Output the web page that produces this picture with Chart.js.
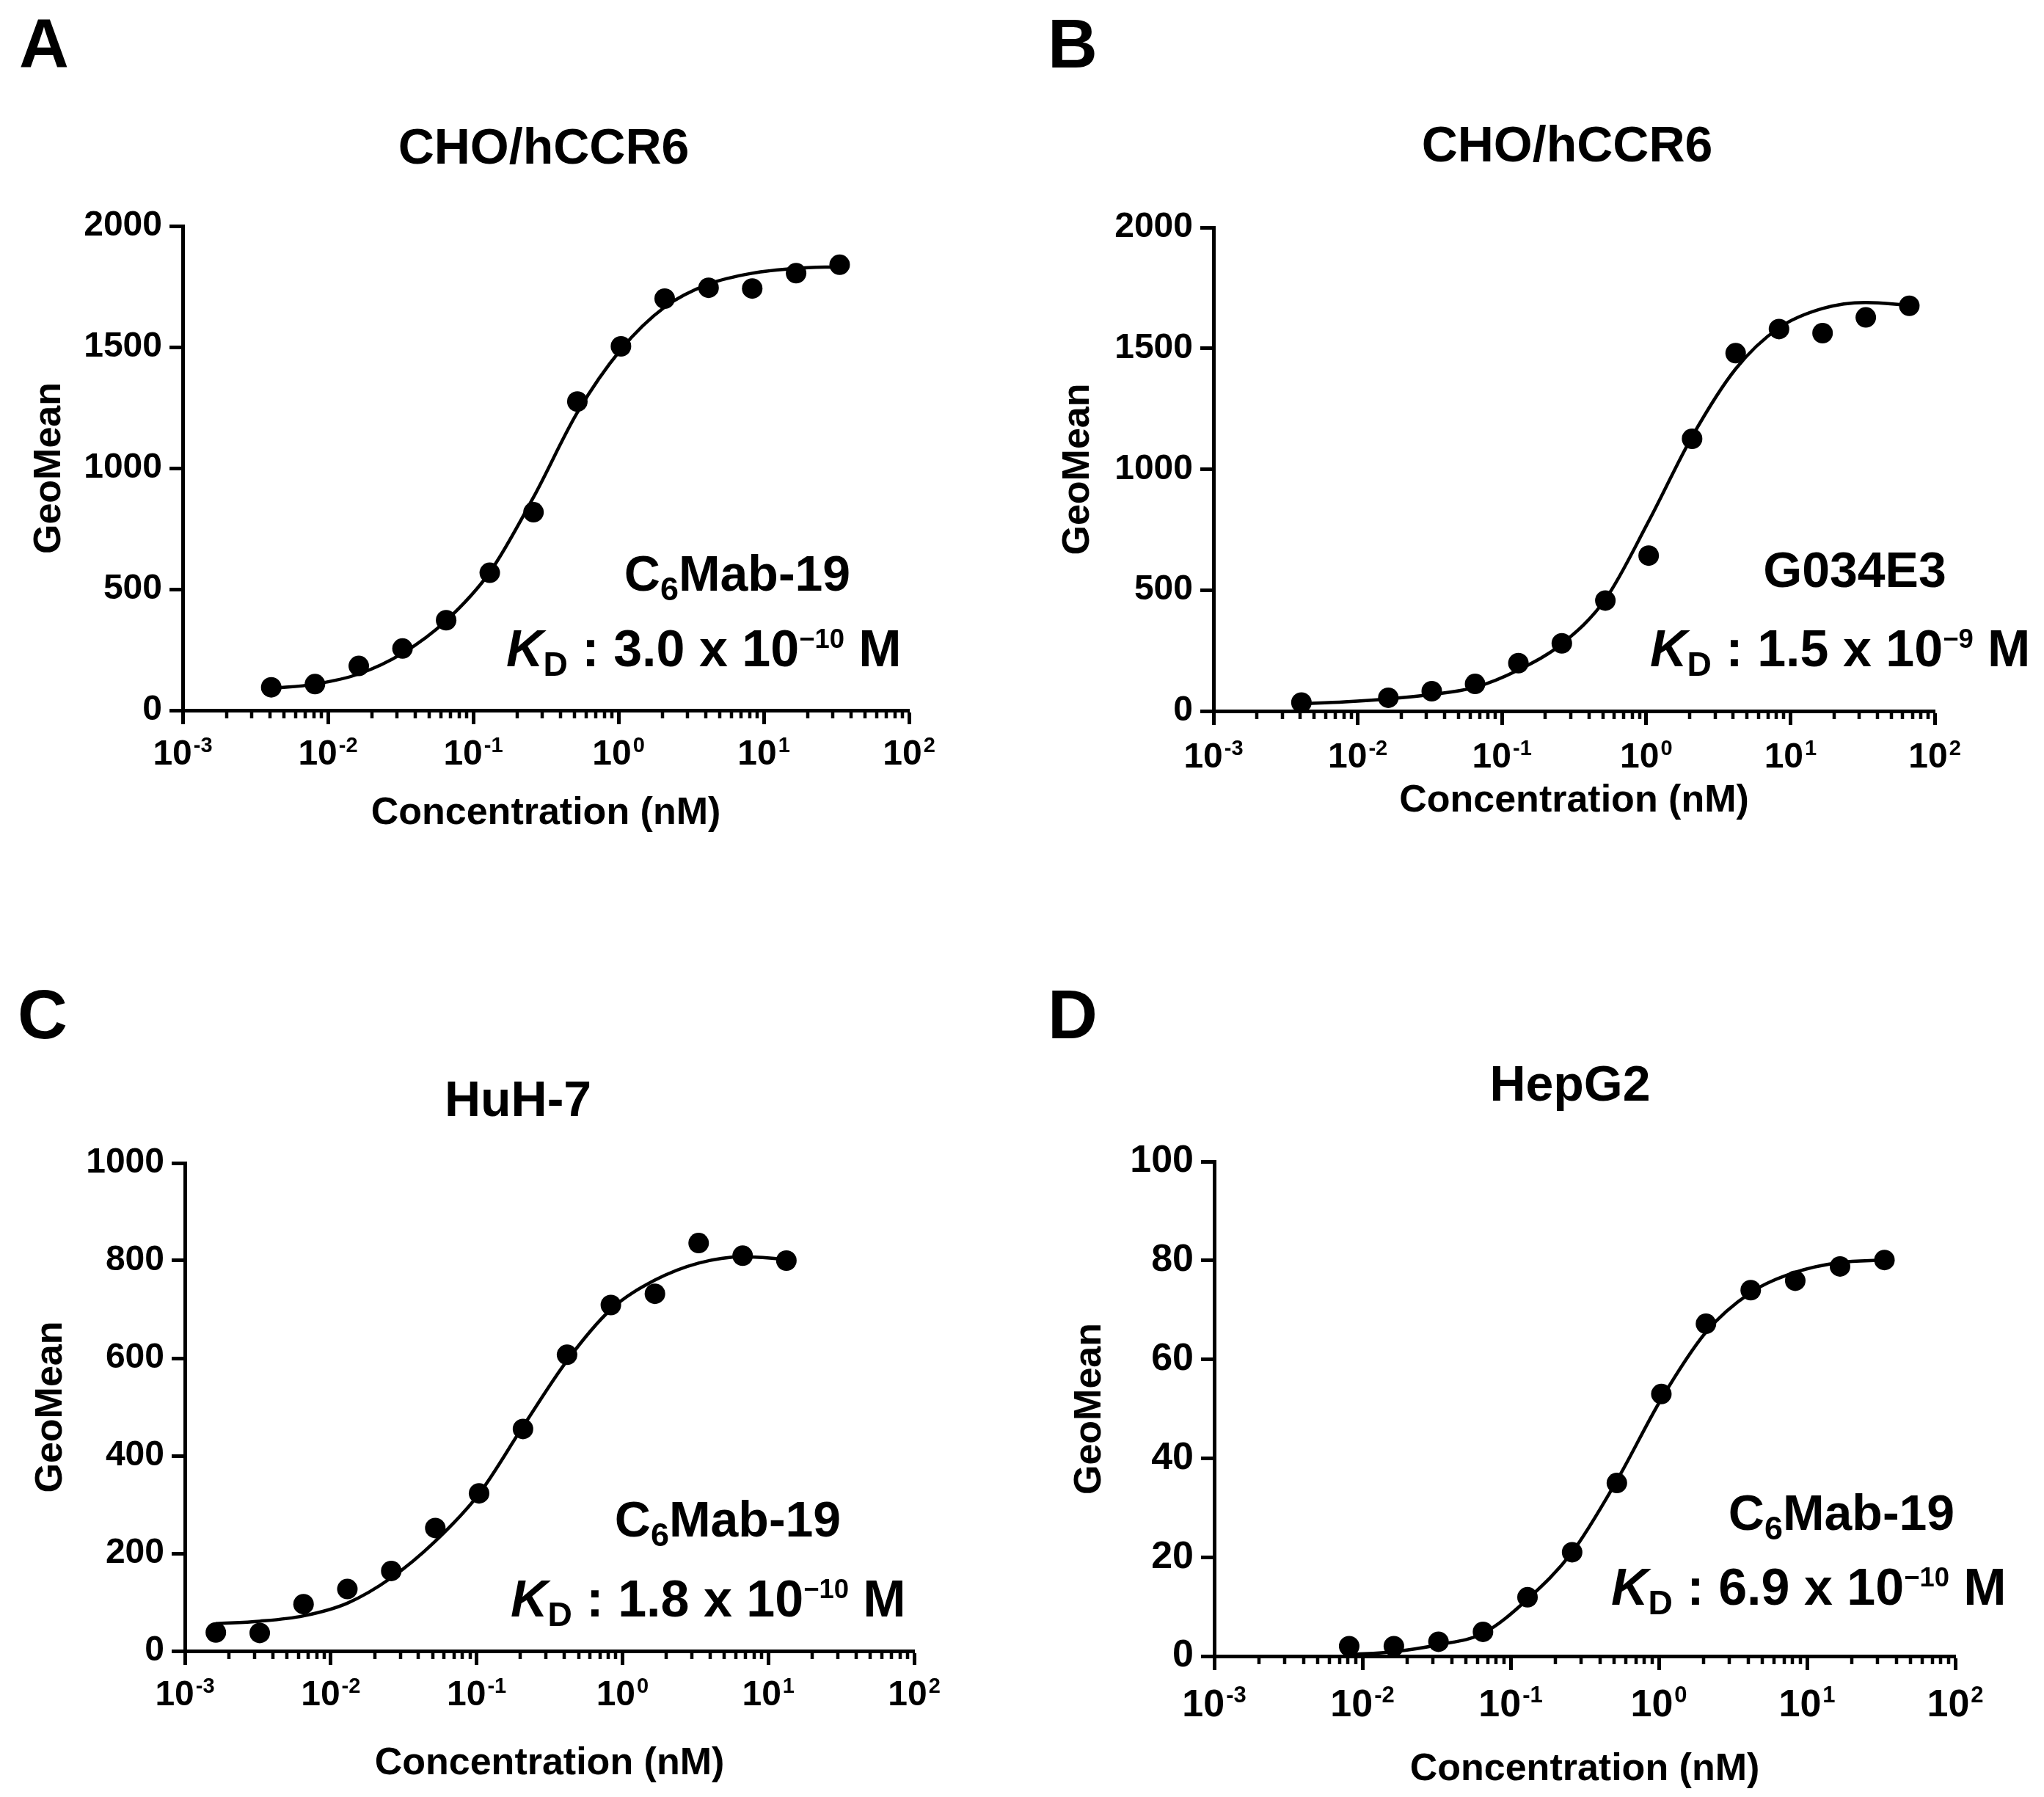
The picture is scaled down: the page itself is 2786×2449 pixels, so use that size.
<!DOCTYPE html>
<html>
<head>
<meta charset="utf-8">
<script src="https://cdn.jsdelivr.net/npm/chart.js@4.4.0/dist/chart.umd.min.js"></script>
<style>
  body { margin: 0; background: #fff; }
  #page { position: relative; width: 2786px; height: 2449px; overflow: hidden;
          font-family: "Liberation Sans", Arial, sans-serif; font-weight: bold; color: #000; }
  #page canvas { position: absolute; }
  .txt { position: absolute; white-space: nowrap; line-height: 1; }
  .sub { font-size: 0.66em; position: relative; top: 0.28em; }
  .sup { font-size: 0.52em; position: relative; top: -0.68em; }
</style>
</head>
<body>
<div id="page"></div>
<script>
// x axis (log) major ticks and their exponent labels
const xMajor = [0.001, 0.01, 0.1, 1, 10, 100];
const xExponents = ['-3', '-2', '-1', '0', '1', '2'];

// A : CHO/hCCR6, C6Mab-19
const concA = [0.00407, 0.00814, 0.0163, 0.0326, 0.0651, 0.130, 0.260, 0.521, 1.04, 2.08, 4.17, 8.33, 16.7, 33.3];
const geoA  = [95, 108, 183, 255, 372, 568, 818, 1275, 1503, 1700, 1745, 1742, 1805, 1840];
const fitA  = [90, 108, 150, 235, 370, 570, 880, 1230, 1490, 1665, 1760, 1805, 1825, 1832];
const yTicksA = [0, 500, 1000, 1500, 2000];

// B : CHO/hCCR6, G034E3
const concB    = [0.00407, 0.0163, 0.0326, 0.0651, 0.130, 0.260, 0.521, 1.04, 2.08, 4.17, 8.33, 16.7, 33.3, 66.7];
const geoB     = [35, 55, 82, 112, 198, 280, 457, 643, 1126, 1480, 1580, 1563, 1628, 1676];
const fitConcB = [0.00407, 0.00814, 0.0163, 0.0326, 0.0651, 0.130, 0.260, 0.521, 1.04, 2.08, 4.17, 8.33, 16.7, 33.3, 66.7];
const fitB     = [30, 38, 50, 68, 98, 170, 278, 462, 785, 1135, 1415, 1585, 1665, 1690, 1678];
const yTicksB = [0, 500, 1000, 1500, 2000];

// C : HuH-7, C6Mab-19
const concC = [0.00163, 0.00326, 0.00651, 0.0130, 0.0260, 0.0521, 0.104, 0.208, 0.417, 0.833, 1.67, 3.33, 6.67, 13.3];
const geoC  = [38, 37, 96, 127, 164, 252, 323, 455, 607, 709, 732, 836, 810, 800];
const fitC  = [56, 61, 72, 98, 150, 225, 322, 460, 595, 700, 760, 795, 808, 803];
const yTicksC = [0, 200, 400, 600, 800, 1000];

// D : HepG2, C6Mab-19
const concD = [0.00814, 0.0163, 0.0326, 0.0651, 0.130, 0.260, 0.521, 1.04, 2.08, 4.17, 8.33, 16.7, 33.3];
const geoD  = [2.0, 2.0, 2.9, 4.9, 11.9, 21.0, 35.0, 53.0, 67.2, 74.0, 75.9, 78.8, 80.1];
const fitD  = [0.3, 0.9, 2.3, 4.6, 11.5, 21.0, 35.5, 52.0, 65.5, 73.5, 77.6, 79.6, 80.1];
const yTicksD = [0, 20, 40, 60, 80, 100];

// text
const xTitle = 'Concentration (nM)';
const yTitle = 'GeoMean';

const FONT = '"Liberation Sans", Arial, sans-serif';
const page = document.getElementById('page');

// layout of each panel (page pixels)
const panels = [
  { letter: 'A', letterX: 26, letterBase: 93, title: 'CHO/hCCR6', titleX: 741, titleBase: 223,
    box: [0, 250, 1393, 950], plot: [249, 308, 1239, 968], xTitleY: 1109, yTitleX: 68, tickBase: 1042, tickSize: 48,
    pts: [concA, geoA], fit: [concA, fitA], yTicks: yTicksA,
    ab: 'C<span class="sub">6</span>Mab-19', abX: 1005, abBase: 805,
    kd: '<i>K</i><span class="sub">D</span> : 3.0 x 10<span class="sup">\u221210</span> M', kdX: 690, kdBase: 908 },
  { letter: 'B', letterX: 1428, letterBase: 93, title: 'CHO/hCCR6', titleX: 2136, titleBase: 220,
    box: [1393, 250, 1393, 950], plot: [1654, 310, 2637, 969], xTitleY: 1092, yTitleX: 1470, tickBase: 1046, tickSize: 48,
    pts: [concB, geoB], fit: [fitConcB, fitB], yTicks: yTicksB,
    ab: 'G034E3', abX: 2528, abBase: 800,
    kd: '<i>K</i><span class="sub">D</span> : 1.5 x 10<span class="sup">\u22129</span> M', kdX: 2249, kdBase: 908 },
  { letter: 'C', letterX: 24, letterBase: 1416, title: 'HuH-7', titleX: 706, titleBase: 1521,
    box: [0, 1530, 1393, 919], plot: [252, 1585, 1246, 2250], xTitleY: 2404, yTitleX: 70, tickBase: 2324, tickSize: 48,
    pts: [concC, geoC], fit: [concC, fitC], yTicks: yTicksC,
    ab: 'C<span class="sub">6</span>Mab-19', abX: 992, abBase: 2094,
    kd: '<i>K</i><span class="sub">D</span> : 1.8 x 10<span class="sup">\u221210</span> M', kdX: 696, kdBase: 2203 },
  { letter: 'D', letterX: 1428, letterBase: 1416, title: 'HepG2', titleX: 2140, titleBase: 1500,
    box: [1393, 1530, 1393, 919], plot: [1655, 1583, 2665, 2257], xTitleY: 2412, yTitleX: 1486, tickBase: 2339, tickSize: 52,
    pts: [concD, geoD], fit: [concD, fitD], yTicks: yTicksD,
    ab: 'C<span class="sub">6</span>Mab-19', abX: 2510, abBase: 2085,
    kd: '<i>K</i><span class="sub">D</span> : 6.9 x 10<span class="sup">\u221210</span> M', kdX: 2196, kdBase: 2187 }
];

// html text placed by baseline
function addText(html, x, base, size, center) {
  const d = document.createElement('div');
  d.className = 'txt';
  d.innerHTML = html;
  d.style.fontSize = size + 'px';
  d.style.top = (base - 0.8465 * size) + 'px';
  d.style.left = x + 'px';
  if (center) d.style.transform = 'translateX(-50%)';
  page.appendChild(d);
}

// minor ticks and 10^n labels on the log axis
const logAxisPlugin = {
  id: 'logAxis',
  afterDraw(chart, args, opts) {
    const { ctx, chartArea } = chart;
    const xs = chart.scales.x;
    ctx.save();
    ctx.strokeStyle = '#000';
    ctx.lineWidth = 4.5;
    for (let e = -3; e < 2; e++) {
      for (let m = 2; m < 10; m++) {
        const px = Math.round(xs.getPixelForValue(m * Math.pow(10, e)));
        ctx.beginPath();
        ctx.moveTo(px, chartArea.bottom);
        ctx.lineTo(px, chartArea.bottom + 11);
        ctx.stroke();
      }
    }
    ctx.fillStyle = '#000';
    ctx.textBaseline = 'alphabetic';
    ctx.textAlign = 'left';
    const big = 'bold ' + opts.size + 'px ' + FONT;
    const small = 'bold ' + Math.round(opts.size * 0.6) + 'px ' + FONT;
    xMajor.forEach((v, i) => {
      const px = xs.getPixelForValue(v);
      ctx.font = big;
      const w1 = ctx.measureText('10').width;
      ctx.font = small;
      const w2 = ctx.measureText(xExponents[i]).width;
      const x0 = px - (w1 + 2 + w2) / 2;
      ctx.font = big;
      ctx.fillText('10', x0, opts.base);
      ctx.font = small;
      ctx.fillText(xExponents[i], x0 + w1 + 2, opts.base - opts.size * 0.36);
    });
    ctx.restore();
  }
};

Chart.defaults.font.family = FONT;
Chart.defaults.font.weight = 'bold';
Chart.defaults.color = '#000';

panels.forEach(p => {
  const [bx, by, bw, bh] = p.box;
  const [pl, pt, pr, pb] = p.plot;
  const canvas = document.createElement('canvas');
  canvas.width = bw; canvas.height = bh;
  canvas.style.left = bx + 'px'; canvas.style.top = by + 'px';
  canvas.style.width = bw + 'px'; canvas.style.height = bh + 'px';
  page.appendChild(canvas);

  const titleLH = 52 * 1.2;
  const points = p.pts[0].map((x, i) => ({ x: x, y: p.pts[1][i] }));
  const curve = p.fit[0].map((x, i) => ({ x: x, y: p.fit[1][i] }));
  const yMax = p.yTicks[p.yTicks.length - 1];

  new Chart(canvas, {
    type: 'scatter',
    data: {
      datasets: [
        { data: points, pointRadius: 14, pointHoverRadius: 14, pointBackgroundColor: '#000',
          pointBorderWidth: 0, showLine: false, clip: false },
        { data: curve, showLine: true, pointRadius: 0, borderColor: '#000', borderWidth: 4.5,
          cubicInterpolationMode: 'monotone', clip: false }
      ]
    },
    options: {
      responsive: false,
      animation: false,
      devicePixelRatio: 1,
      events: [],
      layout: { padding: { left: 0, top: pt - by, right: bx + bw - pr, bottom: 0 } },
      plugins: {
        legend: { display: false },
        tooltip: { enabled: false },
        logAxis: { base: p.tickBase - by, size: p.tickSize }
      },
      scales: {
        x: {
          type: 'logarithmic', position: 'bottom', min: xMajor[0], max: xMajor[xMajor.length - 1],
          afterBuildTicks: s => { s.ticks = xMajor.map(v => ({ value: v })); },
          afterFit: s => { s.height = by + bh - pb; },
          ticks: { display: false },
          grid: { display: true, drawOnChartArea: false, drawTicks: true, tickLength: 19, tickWidth: 5, tickColor: '#000' },
          border: { display: true, color: '#000', width: 5 },
          title: { display: true, text: xTitle, color: '#000', font: { size: 52, weight: 'bold' },
                   padding: { top: 0, bottom: (by + bh) - p.xTitleY - titleLH / 2 } }
        },
        y: {
          type: 'linear', min: 0, max: yMax,
          afterBuildTicks: s => { s.ticks = p.yTicks.map(v => ({ value: v })); },
          afterFit: s => { s.width = pl - bx; },
          ticks: { color: '#000', padding: 10, font: { size: p.tickSize, weight: 'bold' },
                   callback: v => String(v) },
          grid: { display: true, drawOnChartArea: false, drawTicks: true, tickLength: 18, tickWidth: 5, tickColor: '#000' },
          border: { display: true, color: '#000', width: 5 },
          title: { display: true, text: yTitle, color: '#000', font: { size: 52, weight: 'bold' },
                   padding: { top: (p.yTitleX - bx) - titleLH / 2, bottom: 0 } }
        }
      }
    },
    plugins: [logAxisPlugin]
  });

  addText(p.letter, p.letterX, p.letterBase, 94, false);
  addText(p.title, p.titleX, p.titleBase, 68, true);
  addText(p.ab, p.abX, p.abBase, 68, true);
  addText(p.kd, p.kdX, p.kdBase, 70, false);
});
</script>
</body>
</html>
